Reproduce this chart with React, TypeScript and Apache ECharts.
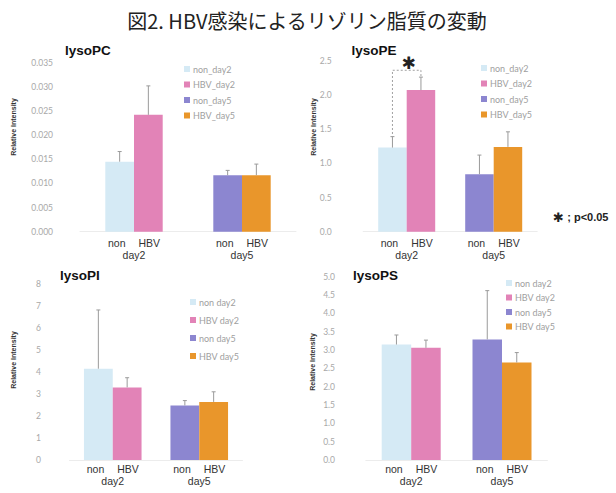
import React, { useEffect, useRef } from "react";
import * as echarts from "echarts";

// ---- data ----
const groups = ["day2", "day5"];
const namesUnderscore = ["non_day2", "HBV_day2", "non_day5", "HBV_day5"];
const namesSpace = ["non day2", "HBV day2", "non day5", "HBV day5"];
const panelTitles = ["lysoPC", "lysoPE", "lysoPI", "lysoPS"];

// values per panel: [non_day2, HBV_day2, non_day5, HBV_day5]
const lysoPC = [0.0145, 0.0242, 0.0117, 0.0117];
const lysoPCErr = [0.0021, 0.006, 0.001, 0.0023];
const lysoPE = [1.23, 2.07, 0.84, 1.24];
const lysoPEErr = [0.16, 0.19, 0.28, 0.22];
const lysoPI = [4.15, 3.3, 2.48, 2.64];
const lysoPIErr = [2.67, 0.44, 0.22, 0.46];
const lysoPS = [3.15, 3.06, 3.29, 2.66];
const lysoPSErr = [0.26, 0.21, 1.33, 0.27];

const yMax = [0.035, 2.5, 8, 5];
const yInterval = [0.005, 0.5, 1, 0.5];
const yDecimals = [3, 1, 0, 1];

// significance bracket for lysoPE: [left bottom, top, right bottom, star]
const bracketPE = [1.37, 2.36, 2.25, 2.47];

const colors = ["#d5eaf5", "#e283b7", "#8c86d0", "#e9962b"];

export default function App() {
  const ref = useRef<HTMLDivElement>(null);

  useEffect(() => {
    if (!ref.current) return;
    const chart = echarts.init(ref.current, undefined, { renderer: "svg" });

    const values = [lysoPC, lysoPE, lysoPI, lysoPS];
    const errs = [lysoPCErr, lysoPEErr, lysoPIErr, lysoPSErr];
    const grids = [
      { left: 80, top: 62.7, width: 216, height: 169 },
      { left: 363.2, top: 60.7, width: 174, height: 171 },
      { left: 69.5, top: 284, width: 173, height: 176 },
      { left: 365.8, top: 276.7, width: 181.6, height: 183.3 },
    ];
    const barWidths = [28.7, 28.5, 28.8, 29.5];
    const labelMargins = [27, 31.5, 28.5, 30.8];
    const catMargins = [5, 5, 3, 3];
    const legendPos = [
      { left: 184, top: 64, gap: 5.5 },
      { left: 481, top: 63, gap: 5.5 },
      { left: 190, top: 297, gap: 8 },
      { left: 506, top: 278, gap: 4.5 },
    ];

    const series: any[] = [];
    values.forEach((vals, p) => {
      const names = p < 2 ? namesUnderscore : namesSpace;
      vals.forEach((v, k) => {
        const cat = k < 2 ? 0 : 1;
        const slot = k % 2;
        const data = groups.map((_, gi) => (gi === cat ? v : "-"));
        series.push({
          type: "bar",
          name: names[k],
          xAxisIndex: p,
          yAxisIndex: p,
          stack: `p${p}s${slot}`,
          barWidth: barWidths[p],
          barGap: "0%",
          data,
          itemStyle: { color: colors[k] },
          z: 2,
        });
      });
      const bw = barWidths[p];
      series.push({
        type: "custom",
        name: `err${p}`,
        xAxisIndex: p,
        yAxisIndex: p,
        z: 5,
        encode: { x: 0, y: 2 },
        data: vals.map((v, k) => [k < 2 ? 0 : 1, k % 2, v, errs[p][k]]),
        renderItem: (params: any, api: any) => {
          const cat = api.value(0);
          const slot = api.value(1);
          const v = api.value(2);
          const e = api.value(3);
          const base = api.coord([cat, v]);
          const top = api.coord([cat, v + e]);
          const x = base[0] + (slot === 0 ? -bw / 2 : bw / 2);
          return {
            type: "group",
            children: [
              { type: "line", shape: { x1: x, y1: base[1], x2: x, y2: top[1] }, style: { stroke: "#9a9a9a", lineWidth: 1 } },
              { type: "line", shape: { x1: x - 2, y1: top[1], x2: x + 2, y2: top[1] }, style: { stroke: "#9a9a9a", lineWidth: 1 } },
            ],
          };
        },
      });
    });

    // significance bracket on lysoPE
    const bwPE = barWidths[1];
    series.push({
      type: "custom",
      name: "bracket",
      xAxisIndex: 1,
      yAxisIndex: 1,
      z: 6,
      encode: { x: 0, y: 1 },
      data: [[0, bracketPE[1]]],
      renderItem: (params: any, api: any) => {
        const l0 = api.coord([0, bracketPE[0]]);
        const t = api.coord([0, bracketPE[1]]);
        const r0 = api.coord([0, bracketPE[2]]);
        const s = api.coord([0, bracketPE[3]]);
        const xl = l0[0] - bwPE / 2;
        const xr = l0[0] + bwPE / 2;
        return {
          type: "group",
          children: [
            {
              type: "polyline",
              shape: { points: [[xl, l0[1]], [xl, t[1]], [xr, t[1]], [xr, r0[1]]] },
              style: { stroke: "#a0a0a0", lineWidth: 1, lineDash: [2, 2], fill: "none" },
            },
            {
              type: "text",
              x: (xl + xr) / 2 + 2,
              y: s[1],
              style: { text: "✱", fontSize: 17, fontWeight: "bold", fill: "#222", align: "center", verticalAlign: "middle", fontFamily: "DejaVu Sans" },
            },
          ],
        };
      },
    });

    const xAxis = grids.map((_, p) => ({
      type: "category",
      gridIndex: p,
      data: groups,
      axisLine: { show: true, lineStyle: { color: "#ececec" } },
      axisTick: { show: false },
      axisLabel: {
        margin: catMargins[p],
        interval: 0,
        formatter: (val: string) => `{a|non}{g|}{a|HBV}\n{b|${val}}`,
        rich: {
          a: { fontSize: 10.5, color: "#333", fontFamily: "Liberation Sans", lineHeight: 12 },
          g: { width: 13, lineHeight: 12 },
          b: { fontSize: 10.5, color: "#333", fontFamily: "Liberation Sans", lineHeight: 12 },
        },
      },
    }));

    const yAxis = grids.map((_, p) => ({
      type: "value",
      gridIndex: p,
      min: 0,
      max: yMax[p],
      interval: yInterval[p],
      splitLine: { show: false },
      axisLine: { show: false },
      axisTick: { show: false },
      axisLabel: {
        margin: labelMargins[p],
        fontSize: 8.5,
        color: "#a8a8a8",
        fontFamily: "Lato",
        formatter: (v: number) => v.toFixed(yDecimals[p]),
      },
    }));

    const legend = legendPos.map((lp, p) => ({
      orient: "vertical",
      left: lp.left,
      top: lp.top,
      itemWidth: 6,
      itemHeight: 6,
      itemGap: lp.gap,
      icon: "rect",
      data: p < 2 ? namesUnderscore : namesSpace,
      selectedMode: false,
      textStyle: { fontSize: 9, color: "#a0a0a0", fontFamily: "Lato", lineHeight: 10, padding: [0, 0, 0, -2] },
      padding: 0,
    }));

    const titlePos = [
      [65, 50],
      [351.5, 50],
      [60, 275],
      [353, 275],
    ];
    const yNamePos = [
      [13, 127],
      [313, 127],
      [13, 360],
      [312, 362],
    ];

    const graphic: any[] = [
      {
        type: "text",
        x: 307,
        y: 20,
        style: {
          text: "図2. HBV感染によるリゾリン脂質の変動",
          fontSize: 20,
          fontWeight: "normal",
          fill: "#222",
          fontFamily: "Noto Sans CJK JP",
          align: "center",
          verticalAlign: "middle",
        },
      },
      {
        type: "text",
        x: 553,
        y: 217,
        style: {
          text: "{s|✱} {t|; p<0.05}",
          rich: {
            s: { fontSize: 13, fontWeight: "bold", fill: "#222", fontFamily: "DejaVu Sans" },
            t: { fontSize: 11, fontWeight: "bold", fill: "#222", fontFamily: "Liberation Sans" },
          },
          verticalAlign: "middle",
        },
      },
    ];
    titlePos.forEach(([x, y], i) => {
      graphic.push({
        type: "text",
        x,
        y,
        style: { text: panelTitles[i], fontSize: 13.5, fontWeight: "bold", fill: "#111", fontFamily: "Liberation Sans", verticalAlign: "middle" },
      });
    });
    yNamePos.forEach(([x, y]) => {
      graphic.push({
        type: "text",
        x,
        y,
        rotation: Math.PI / 2,
        style: { text: "Relative Intensity", fontSize: 7, fontWeight: "bold", fill: "#333", fontFamily: "Liberation Sans", align: "center", verticalAlign: "middle" },
      });
    });

    chart.setOption({
      animation: false,
      backgroundColor: "#fff",
      textStyle: { fontFamily: "Lato" },
      grid: grids,
      xAxis,
      yAxis,
      legend,
      series,
      graphic,
    });

    return () => chart.dispose();
  }, []);

  return <div ref={ref} style={{ position: "fixed", left: 0, top: 0, width: 616, height: 493 }} />;
}
